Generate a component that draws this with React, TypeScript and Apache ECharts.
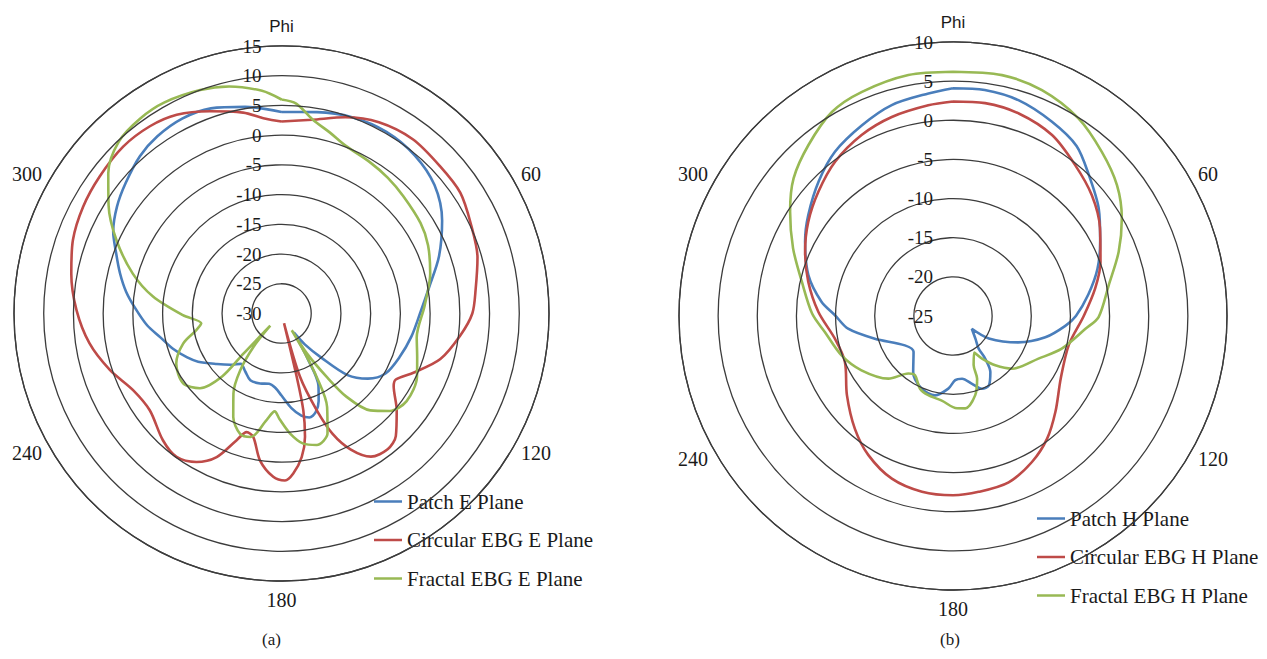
import React, { useEffect, useRef } from "react";
import * as echarts from "echarts";

// ---------- (a) E plane ----------
const patchEAngles = [0, 10, 20, 30, 40, 50, 60, 70, 80, 90, 100, 110, 120, 127, 133, 138, 143, 147, 150, 153, 157, 161, 165, 169, 174, 180, 185, 190, 197, 205, 212, 219, 225, 232, 240, 245, 252, 259, 265, 272, 278, 284, 290, 296, 303, 310, 318, 325, 333, 341, 350, 360];
const patchEValues = [3.9, 4.4, 5.1, 5.3, 4.8, 3.6, 1.2, -1.8, -4.8, -6.7, -7.8, -8.8, -9.8, -11.8, -14.8, -20, -23.5, -26.2, -21, -16.3, -14, -12.4, -11.9, -12.5, -14, -16.2, -17.5, -18, -17.7, -17.6, -18.5, -19.1, -17.8, -16.2, -13.8, -12.5, -10.8, -9.2, -7.3, -5.4, -3.6, -2.0, -0.4, 1.5, 3.0, 4.2, 5.6, 6.4, 6.8, 6.5, 5.3, 3.9];

const circEAngles = [0, 9, 18, 27, 37, 47, 56, 65, 74, 83, 90, 97, 106, 114, 120, 123, 130, 137, 142, 148, 153, 157, 160, 163.7, 165.5, 166.5, 167.3, 169.2, 172, 175.8, 178.8, 182.9, 188.3, 192.9, 196.4, 199.5, 204.3, 209.8, 216.2, 223.1, 233.7, 242.7, 251.8, 261.2, 271, 280.8, 289.4, 298.3, 307, 316.5, 324.9, 332.2, 340.5, 349.2, 354.7, 360];
const circEValues = [2.3, 3.0, 4.7, 6.1, 6.7, 6.4, 6.3, 5.2, 4.3, 2.9, 2.1, 0.3, -2.2, -5.6, -7.8, -7.5, -4.7, -1.8, -1.0, -1.6, -4.3, -8.0, -12.7, -18.9, -28.3, -19, -13.3, -8.9, -5.6, -3.0, -1.9, -2.5, -5.0, -8.7, -9.2, -7.4, -3.5, -1.2, -0.1, -0.8, -2.5, -1.9, 0.4, 2.7, 4.5, 6.0, 7.2, 7.9, 8.3, 8.7, 8.5, 7.8, 6.1, 4.4, 3.0, 2.3];

const fractEAngles = [0, 4, 9, 15, 21, 30, 38, 46, 57, 65, 75, 87, 100, 108, 115, 125, 132, 137.5, 142, 144.5, 147.5, 148.5, 149.3, 151, 154, 159, 165, 170.5, 176, 181, 184, 188, 194, 199, 205, 211, 216, 220, 222.5, 223.5, 223.3, 227.5, 234.6, 244.6, 253, 259, 263, 269, 277.5, 285, 294, 302, 309, 316.5, 324, 331, 340, 347, 355, 360];
const fractEValues = [6.0, 5.4, 3.1, 1.5, 0.2, -0.5, -1.0, -1.55, -2.1, -2.8, -4.1, -5.9, -6.9, -6.0, -4.85, -4.3, -5.5, -7.9, -12.2, -16.9, -22, -26.7, -22.8, -17.8, -12.5, -8.4, -7.1, -7.8, -9.8, -12.2, -13.5, -11.9, -8.6, -8.6, -10.8, -14.3, -18.2, -22.7, -27.2, -20.7, -15.5, -11.4, -9.7, -10.4, -12.7, -15.4, -16.4, -13.4, -8.2, -4.1, 0.4, 4.3, 7.5, 9.8, 10.5, 10.6, 10.0, 9.2, 7.6, 6.0];

// ---------- (b) H plane ----------
const patchHAngles = [0, 8, 17, 27, 36, 44, 53.5, 63, 72, 81, 90, 95, 103, 112, 122, 124, 135.5, 141.8, 142.9, 146.3, 152.7, 158.3, 164.3, 171.8, 178, 183.7, 192.8, 203.3, 215.3, 227.8, 238.6, 253.8, 263.1, 270.5, 276.2, 285.8, 296.7, 304.9, 315.1, 324.3, 334.5, 343.8, 353.7, 360];
const patchHValues = [4.1, 4.15, 3.8, 2.85, 1.85, 0.0, -1.85, -3.9, -5.6, -7.5, -9.3, -10.6, -12.9, -16, -19.6, -22.1, -20.9, -19.7, -18.2, -16.4, -15, -15, -16, -16.9, -16.8, -15.7, -14.6, -14.9, -16.2, -18.2, -17.8, -14.6, -11.5, -9.9, -8.1, -5.8, -3.85, -2.46, -0.7, 0.84, 2.0, 3.06, 3.6, 4.1];

const circHAngles = [0, 8.6, 18, 28.7, 39, 49, 59, 70, 79, 90, 104, 120, 133, 142.5, 151.6, 161.5, 171.7, 180, 190, 200.6, 211.3, 221, 233.3, 247, 259, 271.7, 283.3, 293.5, 303, 312.7, 322.6, 333.2, 342.9, 353.3, 360];
const circHValues = [2.4, 2.5, 2.2, 1.35, -0.2, -1.5, -3.1, -4.95, -6.5, -8.3, -9.75, -9.1, -7.1, -5.25, -3.8, -2.6, -2.3, -2.1, -2.2, -2.8, -4.2, -5.9, -8.1, -10, -9.65, -7.8, -6, -4.4, -2.95, -1.6, -0.2, 0.9, 1.6, 2.1, 2.4];

const fractHAngles = [0, 11.5, 21.5, 32.4, 42.2, 51.4, 60, 68.8, 78.7, 90.4, 95.5, 106.7, 116.5, 131.8, 139.4, 145.8, 149.9, 157.2, 159, 164.3, 172.4, 177.5, 187.6, 197.3, 204.4, 212.6, 217.8, 225.9, 239.3, 250.5, 262.9, 271, 282.8, 293, 302.6, 310.8, 319.8, 329.3, 337.9, 349.5, 360];
const fractHValues = [6.2, 6.4, 6.0, 4.9, 3.3, 1.8, -0.1, -2.3, -4.7, -6.4, -8.0, -10.5, -12.8, -14.9, -16.7, -18.4, -19.6, -18.2, -16.4, -14.5, -13.1, -13.2, -14.1, -14.4, -14.8, -16, -15.7, -13.5, -11.4, -9.9, -8.5, -7.0, -5.2, -2.8, -0.3, 1.9, 3.6, 5.3, 5.9, 6.3, 6.2];

const namesE = ["Patch E Plane", "Circular EBG E Plane", "Fractal EBG E Plane"];
const namesH = ["Patch H Plane", "Circular EBG H Plane", "Fractal EBG H Plane"];
const colors = ["#4a7ebb", "#be4b48", "#98b954"];
const angleTickLabels: Record<number, string> = { 0: "Phi", 60: "60", 120: "120", 180: "180", 240: "240", 300: "300" };
const rangeE = { min: -30, max: 15 };
const rangeH = { min: -25, max: 10 };

const toData = (angles: number[], values: number[]) => angles.map((a, i) => [values[i], a]);

const ringColor = "#3c3c3c";
const serif = "'Liberation Serif', 'Times New Roman', serif";

function angleAxis(polarIndex: number) {
  return {
    polarIndex,
    type: "value",
    min: 0,
    max: 360,
    interval: 60,
    startAngle: 90,
    clockwise: true,
    axisLine: { show: true, lineStyle: { color: ringColor, width: 1.3 } },
    axisTick: { show: false },
    splitLine: { show: false },
    axisLabel: {
      margin: 9,
      fontFamily: serif,
      fontSize: 20,
      color: "#1a1a1a",
      formatter: (v: number) => {
        const t = angleTickLabels[v];
        if (t === undefined) return "";
        if (v === 0) return "{phi|Phi}";
        if (v === 180) return "{bot|180}";
        return "{n|" + t + "}";
      },
      rich: {
        n: { fontFamily: serif, fontSize: 20, color: "#1a1a1a", lineHeight: 2 },
        phi: { fontFamily: "'Liberation Sans', Arial, sans-serif", fontSize: 17, color: "#1a1a1a", lineHeight: 2, padding: [0, 0, 20, 0] },
        bot: { fontFamily: serif, fontSize: 20, color: "#1a1a1a", lineHeight: 2, padding: [18, 0, 0, 0] },
      },
    },
  };
}

function radiusAxis(polarIndex: number, range: { min: number; max: number }) {
  return {
    polarIndex,
    type: "value",
    min: range.min,
    max: range.max,
    interval: 5,
    axisLine: { show: false },
    axisTick: { show: false },
    splitLine: { show: true, lineStyle: { color: ringColor, width: 1.3 } },
    axisLabel: { margin: 20, fontFamily: serif, fontSize: 19, color: "#1a1a1a" },
    z: 5,
  };
}

function lineSeries(name: string, polarIndex: number, data: number[][], color: string) {
  return {
    name,
    type: "line",
    coordinateSystem: "polar",
    polarIndex,
    data,
    symbol: "none",
    showSymbol: false,
    smooth: 0.3,
    lineStyle: { color, width: 2.6 },
    itemStyle: { color },
    z: 3,
  };
}

function legend(names: string[], left: number, top: number, gap: number) {
  return {
    data: names,
    orient: "vertical",
    left,
    top,
    itemWidth: 28,
    itemHeight: 2.5,
    itemGap: gap,
    icon: "rect",
    textStyle: { fontFamily: serif, fontSize: 21, lineHeight: 20, color: "#1a1a1a" },
    backgroundColor: "transparent",
  };
}

export default function App() {
  const ref = useRef<HTMLDivElement>(null);
  useEffect(() => {
    if (!ref.current) return;
    const chart = echarts.init(ref.current, null, { renderer: "svg" });
    chart.setOption({
      animation: false,
      backgroundColor: "#ffffff",
      polar: [
        { center: [281.5, 313.5], radius: 267.5 },
        { center: [953, 316], radius: 274 },
      ],
      angleAxis: [angleAxis(0), angleAxis(1)],
      radiusAxis: [radiusAxis(0, rangeE), radiusAxis(1, rangeH)],
      legend: [legend(namesE, 369, 486, 17.5), legend(namesH, 1032, 503, 17.5)],
      series: [
        lineSeries(namesE[0], 0, toData(patchEAngles, patchEValues), colors[0]),
        lineSeries(namesE[1], 0, toData(circEAngles, circEValues), colors[1]),
        lineSeries(namesE[2], 0, toData(fractEAngles, fractEValues), colors[2]),
        lineSeries(namesH[0], 1, toData(patchHAngles, patchHValues), colors[0]),
        lineSeries(namesH[1], 1, toData(circHAngles, circHValues), colors[1]),
        lineSeries(namesH[2], 1, toData(fractHAngles, fractHValues), colors[2]),
      ],
      graphic: [
        { type: "text", left: 262, top: 631, style: { text: "(a)", font: `17px ${serif}`, fill: "#1a1a1a" } },
        { type: "text", left: 940, top: 631, style: { text: "(b)", font: `17px ${serif}`, fill: "#1a1a1a" } },
      ],
    });
    return () => chart.dispose();
  }, []);
  return (
    <div
      ref={ref}
      style={{ position: "fixed", left: 0, top: 0, width: 1267, height: 659, background: "#fff" }}
    />
  );
}
